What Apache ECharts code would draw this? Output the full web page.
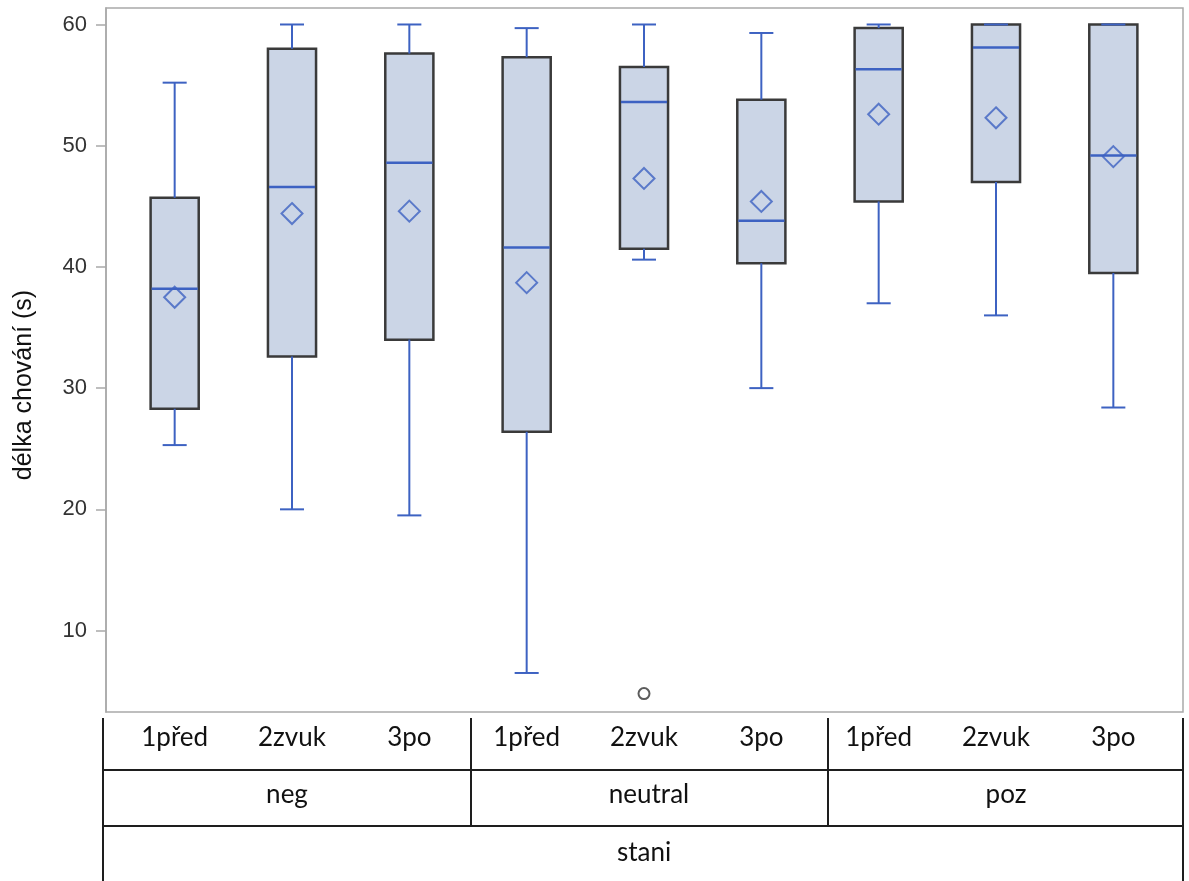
<!DOCTYPE html>
<html>
<head>
<meta charset="utf-8">
<script src="https://cdn.jsdelivr.net/npm/echarts@6/dist/echarts.min.js"></script>
<style>
html,body{margin:0;padding:0;background:#fff;}
#chart{width:1189px;height:881px;}
</style>
</head>
<body>
<div id="chart"></div>
<script>
// ---- data ----
const categories = ['1před','2zvuk','3po','1před','2zvuk','3po','1před','2zvuk','3po'];
const groups = ['neg','neutral','poz'];
const superGroup = ['stani'];
const lowWhisker  = [25.3, 20.0, 19.5,  6.5, 40.6, 30.0, 37.0, 36.0, 28.4];
const q1Values    = [28.3, 32.6, 34.0, 26.4, 41.5, 40.3, 45.4, 47.0, 39.5];
const medians     = [38.2, 46.6, 48.6, 41.6, 53.6, 43.8, 56.3, 58.1, 49.2];
const q3Values    = [45.7, 58.0, 57.6, 57.3, 56.5, 53.8, 59.7, 60.0, 60.0];
const highWhisker = [55.2, 60.0, 60.0, 59.7, 60.0, 59.3, 60.0, 60.0, 60.0];
const means       = [37.5, 44.4, 44.6, 38.7, 47.3, 45.4, 52.6, 52.3, 49.1];
const outlierCategory = [4];
const outlierValues   = [4.8];
const yTicks = [10, 20, 30, 40, 50, 60];

// ---- styling ----
const BLUE = '#3d62c2';
const BOX_FILL = '#cbd5e6';
const BOX_STROKE = '#3a3a3a';
const FRAME = '#a9a9a9';
const TABLE = '#1e1e1e';
const tableFont = 'Lato, "Open Sans", sans-serif';
// label paddings so each group label sits centred in its table cell
const groupLabelPadding = [[0, 10, 0, 0], [0, 0, 0, 10], [0, 0, 0, 20]];

const boxData = categories.map((c, i) => [i, lowWhisker[i], q1Values[i], medians[i], q3Values[i], highWhisker[i]]);
const meanData = categories.map((c, i) => [i, means[i]]);
const outlierData = outlierCategory.map((c, i) => [c, outlierValues[i]]);
const groupAxisData = groups.map((g, i) => ({value: g, textStyle: {padding: groupLabelPadding[i]}}));

const chart = echarts.init(document.getElementById('chart'), null, {renderer: 'canvas'});

function line(x1, y1, x2, y2, color, w) {
  return {type: 'line', shape: {x1, y1, x2, y2}, style: {stroke: color, lineWidth: w}, silent: true};
}

chart.setOption({
  animation: false,
  backgroundColor: '#ffffff',
  grid: {left: 116, right: 17, top: 8, bottom: 169, containLabel: false},
  xAxis: [
    {
      type: 'category', data: categories, position: 'bottom', boundaryGap: true,
      axisLine: {show: false}, axisTick: {show: false}, splitLine: {show: false},
      axisLabel: {margin: 13, fontFamily: tableFont, fontSize: 26, color: '#111', interval: 0}
    },
    {
      type: 'category', data: groupAxisData, position: 'bottom', boundaryGap: true,
      axisLine: {show: false}, axisTick: {show: false}, splitLine: {show: false},
      axisLabel: {margin: 70, fontFamily: tableFont, fontSize: 26, color: '#111', interval: 0}
    },
    {
      type: 'category', data: superGroup, position: 'bottom', boundaryGap: true,
      axisLine: {show: false}, axisTick: {show: false}, splitLine: {show: false},
      axisLabel: {margin: 128, fontFamily: tableFont, fontSize: 26, color: '#111', interval: 0}
    }
  ],
  yAxis: {
    type: 'value', min: 3.28, max: 61.36, offset: 10,
    name: 'délka chování (s)', nameLocation: 'middle', nameGap: 69,
    nameTextStyle: {fontFamily: '"Liberation Sans", Arial, sans-serif', fontSize: 25, color: '#111', padding: [0, 50, 0, 0]},
    axisLine: {show: true, lineStyle: {color: FRAME, width: 1.5}},
    axisTick: {show: true, length: 10, customValues: yTicks, lineStyle: {color: FRAME, width: 1.5}},
    axisLabel: {customValues: yTicks, margin: 19, fontFamily: '"Liberation Sans", Arial, sans-serif', fontSize: 22, color: '#333'},
    splitLine: {show: false}
  },
  graphic: [
    {type: 'rect', shape: {x: 106, y: 8, width: 1077, height: 704}, style: {fill: 'none', stroke: FRAME, lineWidth: 1.5}, silent: true, z: -1},
    line(103, 718, 103, 881, TABLE, 2),
    line(1183, 718, 1183, 881, TABLE, 2),
    line(471, 718, 471, 826, TABLE, 2),
    line(828, 718, 828, 826, TABLE, 2),
    line(103, 770, 1183, 770, TABLE, 2),
    line(103, 826, 1183, 826, TABLE, 2)
  ],
  series: [
    {
      name: 'box', type: 'custom', xAxisIndex: 0,
      encode: {x: 0, y: [1, 2, 3, 4, 5]},
      data: boxData,
      renderItem: function (params, api) {
        const x = api.value(0);
        const lo = api.coord([x, api.value(1)]);
        const q1 = api.coord([x, api.value(2)]);
        const md = api.coord([x, api.value(3)]);
        const q3 = api.coord([x, api.value(4)]);
        const hi = api.coord([x, api.value(5)]);
        const w = api.size([1, 0])[0] * 0.41;
        const cx = lo[0];
        const cap = w / 4;
        return {
          type: 'group',
          children: [
            {type: 'rect', shape: {x: cx - w / 2, y: q3[1], width: w, height: q1[1] - q3[1]},
             style: {fill: BOX_FILL, stroke: BOX_STROKE, lineWidth: 2.5}},
            {type: 'line', shape: {x1: cx, y1: q3[1], x2: cx, y2: hi[1]}, style: {stroke: BLUE, lineWidth: 2}},
            {type: 'line', shape: {x1: cx, y1: q1[1], x2: cx, y2: lo[1]}, style: {stroke: BLUE, lineWidth: 2}},
            {type: 'line', shape: {x1: cx - cap, y1: hi[1], x2: cx + cap, y2: hi[1]}, style: {stroke: BLUE, lineWidth: 2}},
            {type: 'line', shape: {x1: cx - cap, y1: lo[1], x2: cx + cap, y2: lo[1]}, style: {stroke: BLUE, lineWidth: 2}},
            {type: 'line', shape: {x1: cx - w / 2 + 1, y1: md[1], x2: cx + w / 2 - 1, y2: md[1]}, style: {stroke: BLUE, lineWidth: 2.5}}
          ]
        };
      },
      z: 2
    },
    {
      name: 'mean', type: 'scatter', xAxisIndex: 0, data: meanData,
      symbol: 'diamond', symbolSize: 21,
      itemStyle: {color: 'rgba(0,0,0,0)', borderColor: BLUE, borderWidth: 2},
      z: 3
    },
    {
      name: 'outlier', type: 'scatter', xAxisIndex: 0, data: outlierData,
      symbol: 'circle', symbolSize: 11,
      itemStyle: {color: 'rgba(0,0,0,0)', borderColor: '#333', borderWidth: 2},
      z: 3
    }
  ]
});
</script>
</body>
</html>
